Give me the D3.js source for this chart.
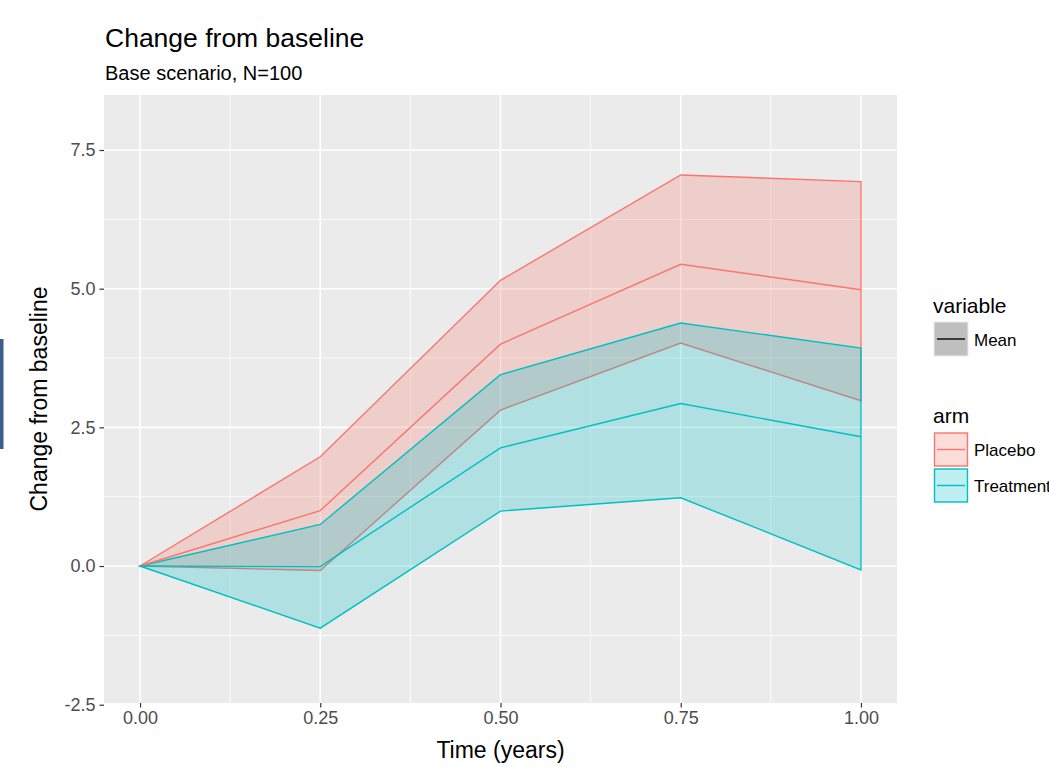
<!DOCTYPE html>
<html>
<head>
    <meta charset="utf-8">
    <title>Change from baseline</title>
    <style>
        body { margin: 0; background: #fff; overflow: hidden; }
        text { font-family: "Liberation Sans", Arial, sans-serif; }
    </style>
    <script src="https://d3js.org/d3.v7.min.js"></script>
</head>
<body>
<script type="text/javascript">

    // data
    var times = [0, 0.25, 0.5, 0.75, 1.0];
    var placeboLower = [0, -0.08, 2.81, 4.02, 2.98];
    var placeboMean  = [0, 1.00, 4.00, 5.44, 4.98];
    var placeboUpper = [0, 1.97, 5.15, 7.05, 6.93];
    var treatLower = [0, -1.12, 0.99, 1.23, -0.07];
    var treatMean  = [0, -0.01, 2.13, 2.93, 2.33];
    var treatUpper = [0, 0.75, 3.45, 4.38, 3.93];
    var xTicks = [0, 0.25, 0.5, 0.75, 1.0];
    var yTicks = [-2.5, 0, 2.5, 5, 7.5];
    var armNames = ['Placebo', 'Treatment'];
    var armColors = ['#F8766D', '#00BFC4'];

    var W = 1049, H = 767;
    var panel = {left: 104, right: 897, top: 95, bottom: 703};

    var svg = d3.select('body')
                .append('svg')
                .attr('width', W)
                .attr('height', H);

    var x = d3.scaleLinear().domain([-0.05, 1.05]).range([panel.left, panel.right]);
    var y = d3.scaleLinear().domain([-2.5, 7.5]).range([704.7, 150]);

    // odd blue strip on the left edge
    svg.append('rect').attr('x', 0).attr('y', 339).attr('width', 3.5).attr('height', 110)
        .style('fill', '#3B5F8E');

    // panel background
    svg.append('rect')
        .attr('x', panel.left).attr('y', panel.top)
        .attr('width', panel.right - panel.left)
        .attr('height', panel.bottom - panel.top)
        .style('fill', '#EBEBEB');

    var grid = svg.append('g');
    var xMinor = [0.125, 0.375, 0.625, 0.875];
    var yMinor = [-1.25, 1.25, 3.75, 6.25];
    grid.selectAll('.xminor').data(xMinor).enter().append('line')
        .attr('x1', x).attr('x2', x).attr('y1', panel.top).attr('y2', panel.bottom)
        .style('stroke', '#fff').style('stroke-width', 0.8);
    grid.selectAll('.yminor').data(yMinor).enter().append('line')
        .attr('y1', y).attr('y2', y).attr('x1', panel.left).attr('x2', panel.right)
        .style('stroke', '#fff').style('stroke-width', 0.8);
    grid.selectAll('.xmajor').data(xTicks).enter().append('line')
        .attr('x1', x).attr('x2', x).attr('y1', panel.top).attr('y2', panel.bottom)
        .style('stroke', '#fff').style('stroke-width', 1.6);
    grid.selectAll('.ymajor').data(yTicks.filter(function(d) { return y(d) < panel.bottom; }))
        .enter().append('line')
        .attr('y1', y).attr('y2', y).attr('x1', panel.left).attr('x2', panel.right)
        .style('stroke', '#fff').style('stroke-width', 1.6);

    // ribbons (outlined, like geom_ribbon with colour)
    function rows(lo, hi) {
        return times.map(function(t, i) { return {t: t, lo: lo[i], hi: hi[i]}; });
    }
    var ribbons = [rows(placeboLower, placeboUpper), rows(treatLower, treatUpper)];
    var means = [placeboMean, treatMean];

    var area = d3.area()
        .x(function(d) { return x(d.t); })
        .y0(function(d) { return y(d.lo); })
        .y1(function(d) { return y(d.hi); });

    ribbons.forEach(function(r, i) {
        svg.append('path')
            .attr('d', area(r))
            .style('fill', armColors[i])
            .style('fill-opacity', 0.25)
            .style('stroke', armColors[i])
            .style('stroke-width', 1.4);
    });

    var line = d3.line()
        .x(function(d, i) { return x(times[i]); })
        .y(function(d) { return y(d); });

    means.forEach(function(m, i) {
        svg.append('path')
            .attr('d', line(m))
            .style('fill', 'none')
            .style('stroke', armColors[i])
            .style('stroke-width', 1.4);
    });

    // axes
    var fmt1 = d3.format('.1f');
    var xAxis = svg.append('g')
        .attr('transform', 'translate(0,' + panel.bottom + ')')
        .call(d3.axisBottom(x).tickValues(xTicks).tickFormat(d3.format('.2f')).tickSize(4.5).tickPadding(4));
    var yAxis = svg.append('g')
        .attr('transform', 'translate(' + panel.left + ',0)')
        .call(d3.axisLeft(y).tickValues(yTicks)
            .tickFormat(function(d) { return fmt1(d).replace('\u2212', '-'); })
            .tickSize(4.5).tickPadding(4));
    [xAxis, yAxis].forEach(function(a) {
        a.select('.domain').remove();
        a.selectAll('line').style('stroke', '#333').style('stroke-width', 1.2);
        a.selectAll('text').style('fill', '#4D4D4D').style('font-size', '18px')
            .style('font-family', '"Liberation Sans", Arial, sans-serif');
    });

    // titles
    svg.append('text').attr('x', 105).attr('y', 47)
        .style('font-size', '26.5px').style('fill', '#000').text('Change from baseline');
    svg.append('text').attr('x', 105).attr('y', 80)
        .style('font-size', '20px').style('fill', '#000').text('Base scenario, N=100');
    svg.append('text').attr('x', (panel.left + panel.right) / 2).attr('y', 758)
        .attr('text-anchor', 'middle')
        .style('font-size', '23px').text('Time (years)');
    svg.append('text')
        .attr('transform', 'translate(47,' + (panel.top + panel.bottom) / 2 + ') rotate(-90)')
        .attr('text-anchor', 'middle')
        .style('font-size', '23px').text('Change from baseline');

    // legends
    var lg = svg.append('g');
    lg.append('text').attr('x', 933).attr('y', 313).style('font-size', '21px').text('variable');
    lg.append('rect').attr('x', 934).attr('y', 322).attr('width', 34).attr('height', 34)
        .style('fill', '#BFBFBF').style('stroke', '#EBEBEB').style('stroke-width', 1);
    lg.append('line').attr('x1', 937).attr('x2', 965).attr('y1', 339).attr('y2', 339)
        .style('stroke', '#000').style('stroke-width', 1.4);
    lg.append('text').attr('x', 974).attr('y', 346).style('font-size', '17px').text('Mean');

    lg.append('text').attr('x', 933).attr('y', 423).style('font-size', '21px').text('arm');
    armNames.forEach(function(name, i) {
        var top = 433 + i * 36;
        lg.append('rect').attr('x', 934.5).attr('y', top).attr('width', 33).attr('height', 33)
            .style('fill', armColors[i]).style('fill-opacity', 0.25)
            .style('stroke', armColors[i]).style('stroke-width', 1.4);
        lg.append('line').attr('x1', 937).attr('x2', 965)
            .attr('y1', top + 16.5).attr('y2', top + 16.5)
            .style('stroke', armColors[i]).style('stroke-width', 1.4);
        lg.append('text').attr('x', 974).attr('y', top + 23).style('font-size', '17px').text(name);
    });

</script>
</body>
</html>
